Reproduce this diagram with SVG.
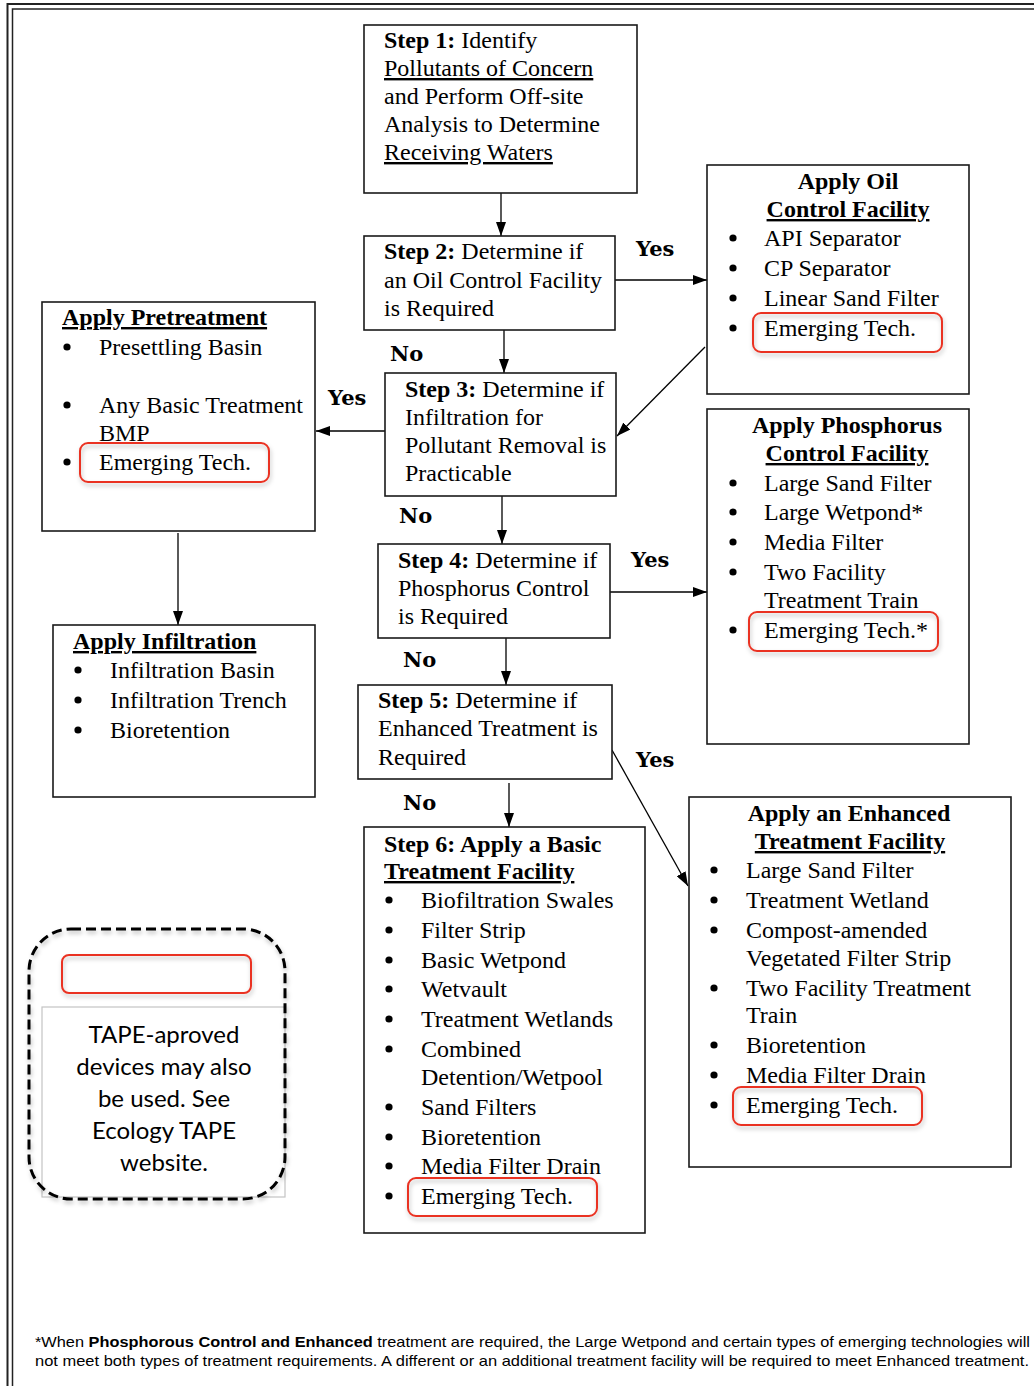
<svg xmlns="http://www.w3.org/2000/svg" width="1034" height="1386" viewBox="0 0 1034 1386">
<style>
.bg{fill:#fff}
.frame{fill:none;stroke:#222}
.box{fill:#fff;stroke:#1a1a1a;stroke-width:1.6}
.t{font-family:"Liberation Serif","Times New Roman",serif;font-size:24px;fill:#000}
.dot{fill:#000}
.b{font-weight:bold}
.u{text-decoration:underline}
.mid{text-anchor:middle}
.yn{font-family:"DejaVu Serif",serif;font-weight:bold;font-size:21px;fill:#000}
.red{fill:none;stroke:#ea3323;stroke-width:2;filter:url(#sh)}
.conn{stroke:#000;stroke-width:1.3;fill:none;marker-end:url(#ah)}
.note{font-family:"Liberation Sans",Arial,sans-serif;font-size:15px;fill:#000}
.tape{font-family:Lato,"Open Sans",sans-serif;font-size:24px;fill:#000;text-anchor:middle}
</style>
<defs>
<marker id="ah" markerUnits="userSpaceOnUse" markerWidth="14" markerHeight="10" refX="14" refY="5" orient="auto">
<path d="M0,0 L14,5 L0,10 z" fill="#000"/>
</marker>
<filter id="sh" x="-20%" y="-30%" width="140%" height="170%">
<feDropShadow dx="1" dy="3" stdDeviation="2" flood-color="#000" flood-opacity="0.25"/>
</filter>
<circle id="bu" r="3.6" class="dot"/>
</defs>
<rect class="bg" x="0" y="0" width="1034" height="1386"/>
<g id="frame">
<path class="frame" stroke-width="2" d="M7.5,1386 V4 H1034"/>
<path class="frame" stroke-width="1.5" d="M12.5,1386 V9 H1034"/>
</g>

<g id="connectors">
<line class="conn" x1="501" y1="193" x2="501" y2="236"/>
<line class="conn" x1="615" y1="280" x2="707" y2="280"/>
<line class="conn" x1="504" y1="330" x2="504" y2="373"/>
<line class="conn" x1="705" y1="347" x2="617" y2="436"/>
<line class="conn" x1="385" y1="431" x2="316" y2="431"/>
<line class="conn" x1="502" y1="496" x2="502" y2="544"/>
<line class="conn" x1="178" y1="533" x2="178" y2="625"/>
<line class="conn" x1="610" y1="592" x2="707" y2="592"/>
<line class="conn" x1="506" y1="638" x2="506" y2="685"/>
<line class="conn" x1="612" y1="750" x2="688" y2="886"/>
<line class="conn" x1="509" y1="783" x2="509" y2="827"/>
<text class="yn" x="636" y="256">Yes</text>
<text class="yn" x="390" y="361">No</text>
<text class="yn" x="328" y="405">Yes</text>
<text class="yn" x="399" y="523">No</text>
<text class="yn" x="631" y="567">Yes</text>
<text class="yn" x="403" y="667">No</text>
<text class="yn" x="636" y="767">Yes</text>
<text class="yn" x="403" y="810">No</text>
</g>

<g id="step1">
<rect class="box" x="364" y="25" width="273" height="168"/>
<text class="t" x="384" y="48"><tspan class="b">Step 1:</tspan> Identify</text>
<text class="t u" x="384" y="76">Pollutants of Concern</text>
<text class="t" x="384" y="104">and Perform Off-site</text>
<text class="t" x="384" y="132">Analysis to Determine</text>
<text class="t u" x="384" y="160">Receiving Waters</text>
</g>

<g id="step2">
<rect class="box" x="364" y="236" width="251" height="94"/>
<text class="t" x="384" y="259"><tspan class="b">Step 2:</tspan> Determine if</text>
<text class="t" x="384" y="288">an Oil Control Facility</text>
<text class="t" x="384" y="316">is Required</text>
</g>

<g id="oil">
<rect class="box" x="707" y="165" width="262" height="229"/>
<text class="t b mid" x="848" y="189">Apply Oil</text>
<text class="t b u mid" x="848" y="217">Control Facility</text>
<use href="#bu" x="733" y="238"/><text class="t" x="764" y="246">API Separator</text>
<use href="#bu" x="733" y="268"/><text class="t" x="764" y="276">CP Separator</text>
<use href="#bu" x="733" y="298"/><text class="t" x="764" y="306">Linear Sand Filter</text>
<use href="#bu" x="733" y="328"/><text class="t" x="764" y="336">Emerging Tech.</text>
<rect class="red" x="753" y="313" width="189" height="39" rx="8"/>
</g>

<g id="pretreatment">
<rect class="box" x="42" y="302" width="273" height="229"/>
<text class="t b u" x="62" y="325">Apply Pretreatment</text>
<use href="#bu" x="67" y="347"/><text class="t" x="99" y="355">Presettling Basin</text>
<use href="#bu" x="67" y="405"/><text class="t" x="99" y="413">Any Basic Treatment</text>
<text class="t" x="99" y="441">BMP</text>
<use href="#bu" x="67" y="462"/><text class="t" x="99" y="470">Emerging Tech.</text>
<rect class="red" x="80" y="443" width="189" height="39" rx="8"/>
</g>

<g id="step3">
<rect class="box" x="385" y="373" width="231" height="123"/>
<text class="t" x="405" y="397"><tspan class="b">Step 3:</tspan> Determine if</text>
<text class="t" x="405" y="425">Infiltration for</text>
<text class="t" x="405" y="453">Pollutant Removal is</text>
<text class="t" x="405" y="481">Practicable</text>
</g>

<g id="phosphorus">
<rect class="box" x="707" y="409" width="262" height="335"/>
<text class="t b mid" x="847" y="433">Apply Phosphorus</text>
<text class="t b u mid" x="847" y="461">Control Facility</text>
<use href="#bu" x="733" y="483"/><text class="t" x="764" y="491">Large Sand Filter</text>
<use href="#bu" x="733" y="512"/><text class="t" x="764" y="520">Large Wetpond*</text>
<use href="#bu" x="733" y="542"/><text class="t" x="764" y="550">Media Filter</text>
<use href="#bu" x="733" y="572"/><text class="t" x="764" y="580">Two Facility</text>
<text class="t" x="764" y="608">Treatment Train</text>
<use href="#bu" x="733" y="630"/><text class="t" x="764" y="638">Emerging Tech.*</text>
<rect class="red" x="749" y="612" width="189" height="39" rx="8"/>
</g>

<g id="step4">
<rect class="box" x="378" y="544" width="232" height="94"/>
<text class="t" x="398" y="568"><tspan class="b">Step 4:</tspan> Determine if</text>
<text class="t" x="398" y="596">Phosphorus Control</text>
<text class="t" x="398" y="624">is Required</text>
</g>

<g id="infiltration">
<rect class="box" x="53" y="625" width="262" height="172"/>
<text class="t b u" x="73" y="649">Apply Infiltration</text>
<use href="#bu" x="78" y="670"/><text class="t" x="110" y="678">Infiltration Basin</text>
<use href="#bu" x="78" y="700"/><text class="t" x="110" y="708">Infiltration Trench</text>
<use href="#bu" x="78" y="730"/><text class="t" x="110" y="738">Bioretention</text>
</g>

<g id="step5">
<rect class="box" x="358" y="685" width="254" height="94"/>
<text class="t" x="378" y="708"><tspan class="b">Step 5:</tspan> Determine if</text>
<text class="t" x="378" y="736">Enhanced Treatment is</text>
<text class="t" x="378" y="765">Required</text>
</g>

<g id="step6">
<rect class="box" x="364" y="827" width="281" height="406"/>
<text class="t b" x="384" y="852">Step 6: Apply a Basic</text>
<text class="t b u" x="384" y="879">Treatment Facility</text>
<use href="#bu" x="389" y="900"/><text class="t" x="421" y="908">Biofiltration Swales</text>
<use href="#bu" x="389" y="930"/><text class="t" x="421" y="938">Filter Strip</text>
<use href="#bu" x="389" y="960"/><text class="t" x="421" y="968">Basic Wetpond</text>
<use href="#bu" x="389" y="989"/><text class="t" x="421" y="997">Wetvault</text>
<use href="#bu" x="389" y="1019"/><text class="t" x="421" y="1027">Treatment Wetlands</text>
<use href="#bu" x="389" y="1049"/><text class="t" x="421" y="1057">Combined</text>
<text class="t" x="421" y="1085">Detention/Wetpool</text>
<use href="#bu" x="389" y="1107"/><text class="t" x="421" y="1115">Sand Filters</text>
<use href="#bu" x="389" y="1137"/><text class="t" x="421" y="1145">Bioretention</text>
<use href="#bu" x="389" y="1166"/><text class="t" x="421" y="1174">Media Filter Drain</text>
<use href="#bu" x="389" y="1196"/><text class="t" x="421" y="1204">Emerging Tech.</text>
<rect class="red" x="408" y="1178" width="189" height="38" rx="8"/>
</g>

<g id="enhanced">
<rect class="box" x="689" y="797" width="322" height="370"/>
<text class="t b mid" x="849" y="821">Apply an Enhanced</text>
<text class="t b u mid" x="850" y="849">Treatment Facility</text>
<use href="#bu" x="714" y="870"/><text class="t" x="746" y="878">Large Sand Filter</text>
<use href="#bu" x="714" y="900"/><text class="t" x="746" y="908">Treatment Wetland</text>
<use href="#bu" x="714" y="930"/><text class="t" x="746" y="938">Compost-amended</text>
<text class="t" x="746" y="966">Vegetated Filter Strip</text>
<use href="#bu" x="714" y="988"/><text class="t" x="746" y="996">Two Facility Treatment</text>
<text class="t" x="746" y="1023">Train</text>
<use href="#bu" x="714" y="1045"/><text class="t" x="746" y="1053">Bioretention</text>
<use href="#bu" x="714" y="1075"/><text class="t" x="746" y="1083">Media Filter Drain</text>
<use href="#bu" x="714" y="1105"/><text class="t" x="746" y="1113">Emerging Tech.</text>
<rect class="red" x="733" y="1087" width="189" height="38" rx="8"/>
</g>

<g id="tape">
<rect x="42" y="1007" width="243" height="190" fill="#fff" stroke="#c4c4c4" stroke-width="1.2"/>
<rect x="29" y="929" width="256" height="270" rx="42" fill="none" stroke="#000" stroke-width="3" stroke-dasharray="10,5" filter="url(#sh)"/>
<rect class="red" x="62" y="955" width="189" height="38" rx="7"/>
<text class="tape" x="164" y="1043">TAPE-aproved</text>
<text class="tape" x="164" y="1075">devices may also</text>
<text class="tape" x="164" y="1107">be used. See</text>
<text class="tape" x="164" y="1139">Ecology TAPE</text>
<text class="tape" x="164" y="1171">website.</text>
</g>

<g id="footnote">
<text class="note" x="35" y="1347" textLength="995" lengthAdjust="spacingAndGlyphs">*When <tspan font-weight="bold">Phosphorous Control and Enhanced</tspan> treatment are required, the Large Wetpond and certain types of emerging technologies will</text>
<text class="note" x="35" y="1366" textLength="994" lengthAdjust="spacingAndGlyphs">not meet both types of treatment requirements. A different  or an additional treatment facility will be required to meet Enhanced treatment.</text>
</g>
</svg>
